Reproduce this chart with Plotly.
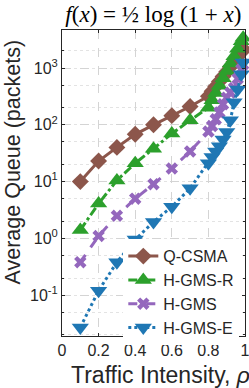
import plotly.graph_objects as go

rho_low = [0.1, 0.2, 0.3, 0.4, 0.5, 0.6, 0.7]
rho_high = [0.8, 0.82, 0.84, 0.86, 0.88, 0.9, 0.92, 0.94, 0.96, 0.98, 0.99]
rho = rho_low + rho_high

q_csma = [10, 23, 40, 68, 100, 145, 210,
          320, 390, 475, 580, 710, 860, 1050, 1290, 1570, 1900, 2150]
h_gms_r = [1.4, 4.1, 10.5, 21, 38, 70, 120,
           200, 270, 365, 490, 660, 890, 1200, 1620, 2190, 2950, 3400]
h_gms = [0.38, 1.1, 2.5, 5, 9, 17, 34,
         76, 95, 125, 165, 230, 300, 370, 445, 650, 950, 1150]
h_gms_e = [0.027, 0.12, 0.38, 0.95, 1.95, 3.6, 7.6,
           21, 27, 34, 42, 55, 75, 120, 250, 420, 780, 1250]

series_names = ["Q-CSMA", "H-GMS-R", "H-GMS", "H-GMS-E"]
x_ticks = [0, 0.2, 0.4, 0.6, 0.8, 1]
x_tick_labels = ["0", "0.2", "0.4", "0.6", "0.8", "1"]
y_ticks = [0.1, 1, 10, 100, 1000]
y_tick_labels = ["10<sup>-1</sup>", "10<sup>0</sup>", "10<sup>1</sup>", "10<sup>2</sup>", "10<sup>3</sup>"]

styles = [
    dict(color="#8c564b", dash="solid", symbol="diamond", size=13),
    dict(color="#2ca02c", dash="dashdot", symbol="triangle-up", size=15),
    dict(color="#9467bd", dash="dash", symbol="x", size=11),
    dict(color="#1f77b4", dash="dot", symbol="triangle-down", size=15),
]

fig = go.Figure()
for name, vals, st in zip(series_names, [q_csma, h_gms_r, h_gms, h_gms_e], styles):
    fig.add_trace(go.Scatter(
        x=rho, y=vals, name=name, mode="lines+markers", cliponaxis=False,
        line=dict(color=st["color"], dash=st["dash"], width=3),
        marker=dict(symbol=st["symbol"], size=st["size"], color=st["color"],
                    line=dict(width=0)),
    ))

font_sans = "Liberation Sans, Arial, sans-serif"
fig.update_layout(
    width=249, height=388, autosize=False,
    margin=dict(l=62, r=4, t=30, b=52, autoexpand=False),
    paper_bgcolor="white", plot_bgcolor="white",
    font=dict(family=font_sans, size=16, color="#262626"),
    title=dict(
        text="<i>f</i>(<i>x</i>) = ½ log (1 + <i>x</i>)",
        font=dict(family="Liberation Serif, Times New Roman, serif", size=23, color="black"),
        x=0.616, xanchor="center", y=0.963, yanchor="middle",
    ),
    showlegend=True,
    legend=dict(
        x=0.335, xanchor="left", y=-0.03, yanchor="bottom",
        bgcolor="white", borderwidth=0,
        font=dict(family=font_sans, size=16, color="#262626"),
        tracegroupgap=0, itemwidth=30,
    ),
    annotations=[
        dict(text="Average Queue (packets)", textangle=-90, showarrow=False,
             xref="paper", yref="paper", x=-0.27, y=0.569,
             xanchor="center", yanchor="middle",
             font=dict(family=font_sans, size=21.5, color="#262626")),
        dict(text="Traffic Intensity, <i>ρ</i>", showarrow=False,
             xref="paper", yref="paper", x=0.537, y=-0.127,
             xanchor="center", yanchor="middle",
             font=dict(family=font_sans, size=23, color="#262626")),
    ],
)
fig.update_xaxes(
    range=[0, 1], tickvals=x_ticks, ticktext=x_tick_labels, automargin=False,
    ticklabeloverflow="allow",
    showline=True, linecolor="#262626", linewidth=1, mirror="ticks",
    ticks="inside", ticklen=3, tickcolor="#262626",
    showgrid=True, gridcolor="#d4d4d4", griddash="dash", gridwidth=1,
    zeroline=False,
    tickfont=dict(size=16),
)
fig.update_yaxes(
    type="log", range=[-1.72, 3.67], tickvals=y_ticks, ticktext=y_tick_labels,
    automargin=False, ticklabeloverflow="allow",
    showline=True, linecolor="#262626", linewidth=1, mirror="ticks",
    ticks="inside", ticklen=3, tickcolor="#262626",
    showgrid=True, gridcolor="#d4d4d4", griddash="dash", gridwidth=1,
    zeroline=False,
    minor=dict(showgrid=True, gridcolor="#e3e3e3", griddash="dot", ticks="inside",
               ticklen=2, tickcolor="#262626"),
    tickfont=dict(size=16),
)

fig.write_html(
    "out.html",
    config={"displayModeBar": False},
    post_script="document.body.style.margin='0';document.body.style.overflow='hidden';",
)
